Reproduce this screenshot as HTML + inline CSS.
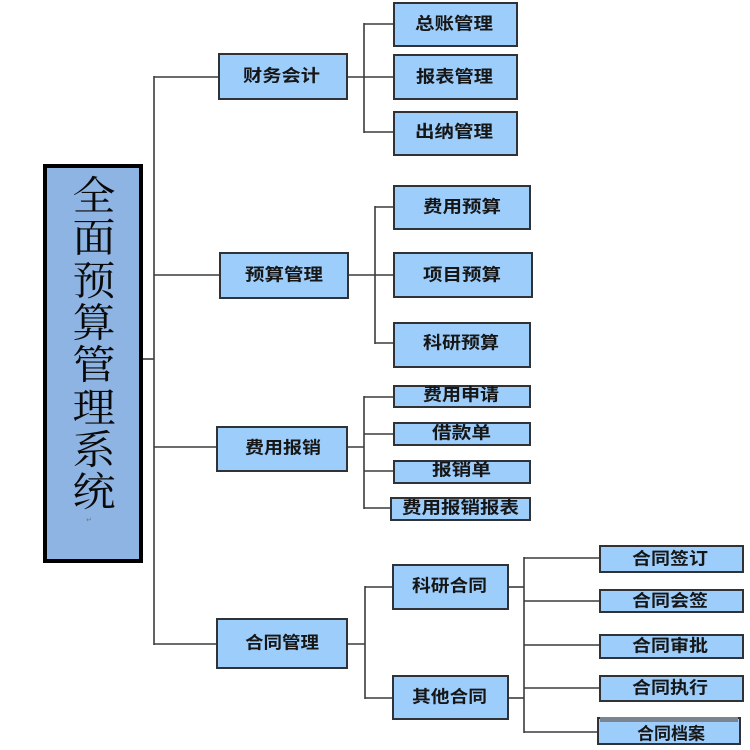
<!DOCTYPE html>
<html><head><meta charset="utf-8"><style>
html,body{margin:0;padding:0;background:#fff;}
svg{display:block;}
.b{fill:#9dcdfb;stroke:#2f3338;stroke-width:2;}
.t{font-family:"Liberation Sans","Noto Sans CJK SC",sans-serif;font-weight:bold;font-size:17px;fill:#161616;dominant-baseline:central;}
.m{font-family:"Liberation Serif","Noto Serif CJK SC",serif;font-size:40px;fill:#0a0a0a;dominant-baseline:central;text-anchor:middle;}
line{stroke:#3c3c3c;stroke-width:1.6;}
</style></head><body>
<svg width="750" height="750" viewBox="0 0 750 750" xmlns="http://www.w3.org/2000/svg">
<!-- connectors -->
<line x1="141" y1="359" x2="154" y2="359"/>
<line x1="154" y1="76" x2="154" y2="645"/>
<line x1="154" y1="77" x2="219" y2="77"/>
<line x1="154" y1="275" x2="220" y2="275"/>
<line x1="154" y1="447" x2="217" y2="447"/>
<line x1="154" y1="644" x2="217" y2="644"/>

<line x1="347" y1="77" x2="364" y2="77"/>
<line x1="364" y1="23" x2="364" y2="133"/>
<line x1="364" y1="24" x2="394" y2="24"/>
<line x1="364" y1="77" x2="394" y2="77"/>
<line x1="364" y1="132" x2="394" y2="132"/>

<line x1="348" y1="275" x2="375" y2="275"/>
<line x1="375" y1="206" x2="375" y2="344"/>
<line x1="375" y1="207" x2="394" y2="207"/>
<line x1="375" y1="275" x2="394" y2="275"/>
<line x1="375" y1="343" x2="394" y2="343"/>

<line x1="347" y1="447" x2="364" y2="447"/>
<line x1="364" y1="396" x2="364" y2="509"/>
<line x1="364" y1="397" x2="394" y2="397"/>
<line x1="364" y1="434" x2="394" y2="434"/>
<line x1="364" y1="471" x2="394" y2="471"/>
<line x1="364" y1="508" x2="391" y2="508"/>

<line x1="347" y1="644" x2="365" y2="644"/>
<line x1="365" y1="586" x2="365" y2="699"/>
<line x1="365" y1="587" x2="393" y2="587"/>
<line x1="365" y1="698" x2="393" y2="698"/>

<line x1="508" y1="587" x2="524" y2="587"/>
<line x1="508" y1="698" x2="524" y2="698"/>
<line x1="524" y1="557" x2="524" y2="733"/>
<line x1="524" y1="558" x2="600" y2="558"/>
<line x1="524" y1="601" x2="600" y2="601"/>
<line x1="524" y1="645" x2="600" y2="645"/>
<line x1="524" y1="688" x2="600" y2="688"/>
<line x1="524" y1="732" x2="598" y2="732"/>

<!-- main box -->
<rect x="45" y="166" width="96" height="395" fill="#8db4e2" stroke="#000" stroke-width="4"/>
<text class="m" x="94" y="196" textLength="43" lengthAdjust="spacingAndGlyphs">全</text>
<text class="m" x="94" y="238" textLength="43" lengthAdjust="spacingAndGlyphs">面</text>
<text class="m" x="94" y="281" textLength="43" lengthAdjust="spacingAndGlyphs">预</text>
<text class="m" x="94" y="323" textLength="43" lengthAdjust="spacingAndGlyphs">算</text>
<text class="m" x="94" y="365" textLength="43" lengthAdjust="spacingAndGlyphs">管</text>
<text class="m" x="94" y="408" textLength="43" lengthAdjust="spacingAndGlyphs">理</text>
<text class="m" x="94" y="450" textLength="43" lengthAdjust="spacingAndGlyphs">系</text>
<text class="m" x="94" y="492" textLength="43" lengthAdjust="spacingAndGlyphs">统</text>
<text x="89" y="522" font-size="7" fill="#777" font-family="Liberation Sans,sans-serif" text-anchor="middle">↵</text>

<!-- level 1 -->
<rect class="b" x="219" y="54" width="128" height="45"/>
<text class="t" x="243" y="76" textLength="77" lengthAdjust="spacingAndGlyphs">财务会计</text>
<rect class="b" x="220" y="253" width="128" height="45"/>
<text class="t" x="245" y="275" textLength="78" lengthAdjust="spacingAndGlyphs">预算管理</text>
<rect class="b" x="217" y="427" width="130" height="44"/>
<text class="t" x="245" y="448" textLength="76" lengthAdjust="spacingAndGlyphs">费用报销</text>
<rect class="b" x="217" y="619" width="130" height="49"/>
<text class="t" x="245" y="643" textLength="74" lengthAdjust="spacingAndGlyphs">合同管理</text>

<!-- level 2 -->
<rect class="b" x="394" y="3" width="123" height="43"/>
<text class="t" x="415" y="24" textLength="78" lengthAdjust="spacingAndGlyphs">总账管理</text>
<rect class="b" x="394" y="55" width="123" height="44"/>
<text class="t" x="416" y="77" textLength="77" lengthAdjust="spacingAndGlyphs">报表管理</text>
<rect class="b" x="394" y="112" width="123" height="43"/>
<text class="t" x="415" y="132" textLength="78" lengthAdjust="spacingAndGlyphs">出纳管理</text>

<rect class="b" x="394" y="186" width="136" height="43"/>
<text class="t" x="423" y="207" textLength="78" lengthAdjust="spacingAndGlyphs">费用预算</text>
<rect class="b" x="394" y="253" width="138" height="44"/>
<text class="t" x="423" y="275" textLength="78" lengthAdjust="spacingAndGlyphs">项目预算</text>
<rect class="b" x="394" y="323" width="136" height="44"/>
<text class="t" x="423" y="343" textLength="76" lengthAdjust="spacingAndGlyphs">科研预算</text>

<rect class="b" x="394" y="386" width="136" height="21"/>
<text class="t" x="423" y="395" textLength="76" lengthAdjust="spacingAndGlyphs">费用申请</text>
<rect class="b" x="394" y="423" width="136" height="22"/>
<text class="t" x="432" y="433" textLength="59" lengthAdjust="spacingAndGlyphs">借款单</text>
<rect class="b" x="394" y="461" width="136" height="22"/>
<text class="t" x="432" y="470" textLength="59" lengthAdjust="spacingAndGlyphs">报销单</text>
<rect class="b" x="391" y="498" width="139" height="22"/>
<text class="t" x="402" y="508" textLength="117" lengthAdjust="spacingAndGlyphs">费用报销报表</text>

<rect class="b" x="393" y="565" width="115" height="44"/>
<text class="t" x="412" y="586" textLength="75" lengthAdjust="spacingAndGlyphs">科研合同</text>
<rect class="b" x="393" y="676" width="115" height="43"/>
<text class="t" x="412" y="697" textLength="75" lengthAdjust="spacingAndGlyphs">其他合同</text>

<!-- level 3 -->
<rect class="b" x="600" y="546" width="143" height="26"/>
<text class="t" x="632" y="559" textLength="76" lengthAdjust="spacingAndGlyphs">合同签订</text>
<rect class="b" x="600" y="590" width="143" height="22"/>
<text class="t" x="632" y="601" textLength="76" lengthAdjust="spacingAndGlyphs">合同会签</text>
<rect class="b" x="600" y="635" width="143" height="23"/>
<text class="t" x="632" y="646" textLength="76" lengthAdjust="spacingAndGlyphs">合同审批</text>
<rect class="b" x="600" y="676" width="143" height="25"/>
<text class="t" x="632" y="688" textLength="76" lengthAdjust="spacingAndGlyphs">合同执行</text>
<rect class="b" x="598" y="718" width="142" height="26"/>
<rect x="600" y="717" width="138" height="5" fill="#7b8592"/>
<text class="t" x="637" y="734" textLength="68" lengthAdjust="spacingAndGlyphs">合同档案</text>
</svg>
</body></html>
